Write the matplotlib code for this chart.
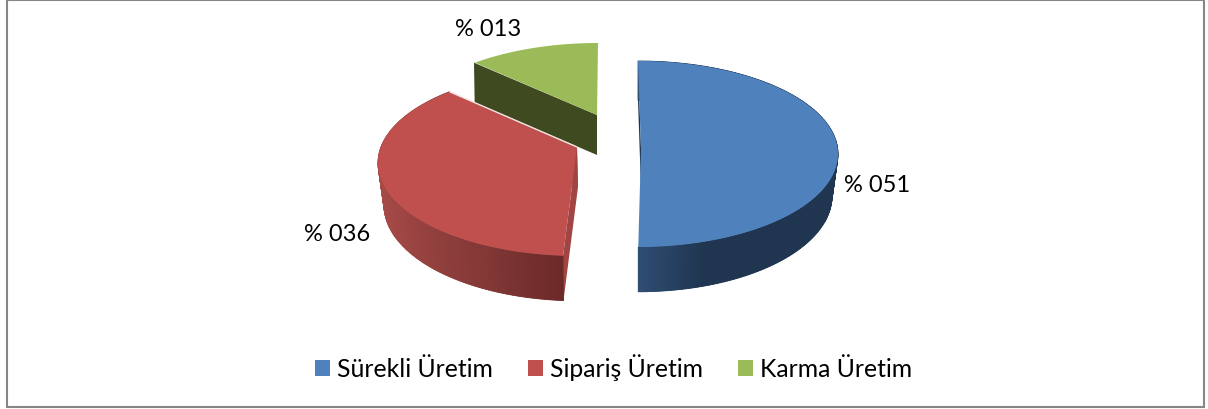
import matplotlib
matplotlib.use('Agg')
import matplotlib.pyplot as plt
import numpy as np
from matplotlib.collections import PolyCollection
from matplotlib.colors import LinearSegmentedColormap
from matplotlib.patches import Patch, Rectangle

plt.rcParams['font.family'] = ['Lato', 'DejaVu Sans']

categories = ['Sürekli Üretim', 'Sipariş Üretim', 'Karma Üretim']
values = [51, 36, 13]
value_labels = ['% 051', '% 036', '% 013']

top_colors = ['#4f81bd', '#c0504d', '#9bbb59']
inner_colors = ['#1f3550', '#a04543', '#3f4a21']

# ellipse centre and apex of each exploded slice, in pixels (y goes down)
centers = [(638, 155), (578, 164), (598, 137)]
apexes = [(641, 150), (577, 148), (597, 116)]
sweep_scale = [0.98, 1.0, 1.0]
label_pos = [(877, 186), (337, 235), (488, 30)]
rx, ry = 200, 93
drop = 42

# outer wall shading, left to right
wall_cmaps = [
    LinearSegmentedColormap.from_list('b', ['#2e4d72', '#1f3550', '#1f3550', '#1f3550']),
    LinearSegmentedColormap.from_list('r', ['#a64a47', '#8f3f3d', '#7d3533', '#6b2a28']),
    None,
]


def arc(t, center, apex, lower=False):
    # circle seen in perspective: the centre lands on the apex, not on the ellipse centre
    k = (center[1] - apex[1]) / ry
    x = np.sin(t)
    y = np.cos(t)
    xp = x * np.sqrt(1 - k * k) / (1 + k * y)
    yp = (y + k) / (1 + k * y)
    if lower:
        return center[0] + 0.97 * rx * xp, center[1] + drop - 1.03 * ry * yp
    return center[0] + rx * xp, center[1] - ry * yp


fig = plt.figure(figsize=(12.08, 4.10), dpi=100)
ax = fig.add_axes([0, 0, 1, 1])
ax.set_xlim(0, 1208)
ax.set_ylim(410, 0)
ax.axis('off')

ax.add_patch(Rectangle((6.5, 1), 1197.5, 406.5, fill=False, edgecolor='#868686', linewidth=1.5))

edges = np.radians(np.concatenate([[0], np.cumsum(values)]) * 3.6)

# green first, the red slice overlaps its wall
for i in [2, 0, 1]:
    t = np.linspace(edges[i], edges[i + 1], 160)
    t = edges[i] + (t - edges[i]) * sweep_scale[i]
    center = centers[i]
    apex = apexes[i]
    ax_top, ay_top = arc(t, center, apex)
    ax_low, ay_low = arc(t, center, apex, lower=True)
    apex_low = (apex[0] + (1 if i == 1 else 0), apex[1] + drop - 2)

    if i == 2:
        # cut face on the left side of the green slice
        ax.fill([apex[0], ax_top[0] - 1, ax_low[0] - 4, apex_low[0]],
                [apex[1], ay_top[0], ay_low[0], apex_low[1]], color=inner_colors[i], lw=0)
    elif i == 0:
        ax.fill([ax_top[0], apex[0], apex_low[0], ax_low[0]],
                [ay_top[0], apex[1], apex_low[1], ay_low[0]], color=inner_colors[i], lw=0)
    else:
        ax.fill([ax_top[-1], apex[0], apex_low[0], ax_low[-1]],
                [ay_top[-1], apex[1], apex_low[1], ay_low[-1]], color=inner_colors[i], lw=0)

    if wall_cmaps[i] is not None:
        if i == 1:
            # the other cut face of the red slice, seen on its right
            ax.fill([apex[0], ax_top[0], ax_low[0], apex_low[0]],
                    [apex[1], ay_top[0], ay_low[0], apex_low[1]], color=inner_colors[i], lw=0)
        quads = [[(ax_top[j], ay_top[j]), (ax_top[j + 1], ay_top[j + 1]),
                  (ax_low[j + 1], ay_low[j + 1]), (ax_low[j], ay_low[j])] for j in range(len(t) - 1)]
        xm = (ax_top[:-1] + ax_top[1:]) / 2
        shade = wall_cmaps[i]((xm - xm.min()) / (xm.max() - xm.min()))
        # solid base so the seams between the strips do not show white
        ax.fill(np.r_[ax_top, ax_low[::-1]], np.r_[ay_top, ay_low[::-1]], color=shade[len(shade) // 2], lw=0)
        ax.add_collection(PolyCollection(quads, facecolors=shade, edgecolors=shade, linewidths=0.6))

    ax.fill(np.r_[apex[0], ax_top], np.r_[apex[1], ay_top], color=top_colors[i], lw=0)
    if i == 1:
        # light rim on the upper cut edge
        ax.plot([ax_top[-1], apex[0]], [ay_top[-1], apex[1]], color='#f2e4e3', lw=1.0, solid_capstyle='butt')

for i in range(3):
    ax.text(label_pos[i][0], label_pos[i][1], value_labels[i], fontsize=17, color='black', ha='center', va='center')

handles = [Patch(facecolor=top_colors[i], edgecolor='none', label=categories[i]) for i in range(3)]
ax.legend(handles=handles, ncol=3, loc='center', bbox_to_anchor=(613.5 / 1208, 1 - 368 / 410), frameon=False,
          fontsize=17.8, handlelength=0.6, handleheight=0.63, handletextpad=0.29, columnspacing=1.42,
          borderpad=0, borderaxespad=0)

fig.savefig('out.png', dpi=100)
